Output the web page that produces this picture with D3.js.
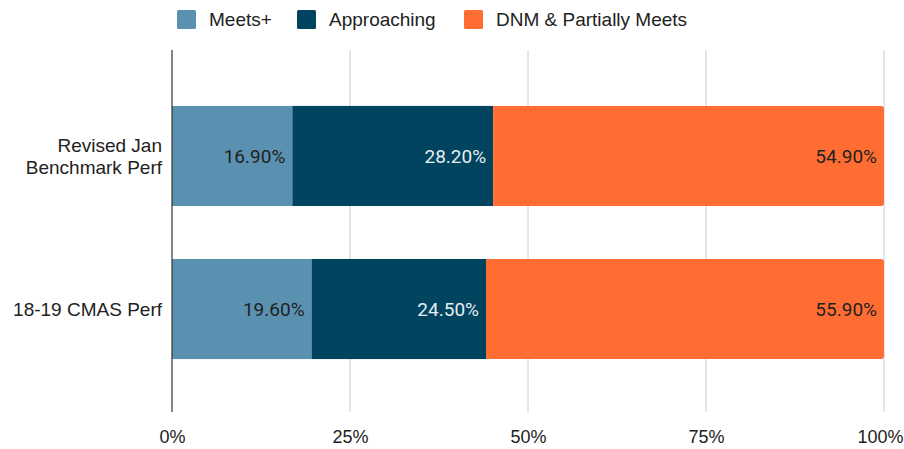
<!DOCTYPE html>
<html>
<head>
<meta charset="utf-8">
<script src="https://cdn.jsdelivr.net/npm/d3@7"></script>
<style>
  body { margin: 0; background: #fff; }
  svg { display: block; }
</style>
</head>
<body>
<svg id="chart" width="904" height="449"></svg>
<script>
// Performance categories and their share of students (percent)
const categories = ["Revised Jan\nBenchmark Perf", "18-19 CMAS Perf"];
const seriesNames = ["Meets+", "Approaching", "DNM & Partially Meets"];
const meetsPlus = [16.9, 19.6];
const approaching = [28.2, 24.5];
const dnmPartial = [54.9, 55.9];
const tickValues = [0, 25, 50, 75, 100];
const tickLabels = ["0%", "25%", "50%", "75%", "100%"];

const colors = ["#5b91b0", "#01445f", "#ff6d33"];
const labelColors = ["#1f1f1f", "#e6edf2", "#1f1f1f"];

const rows = categories.map((c, i) => ({
  category: c,
  "Meets+": meetsPlus[i],
  "Approaching": approaching[i],
  "DNM & Partially Meets": dnmPartial[i]
}));

const svg = d3.select("#chart");

const x = d3.scaleLinear().domain([0, 100]).range([172, 884]);
const y = d3.scaleBand().domain(categories).range([53, 412]).paddingInner(0.346).paddingOuter(0.346);

const font = "'Liberation Sans', Arial, sans-serif";
const labelFont = "Roboto, 'Liberation Sans', sans-serif";

// Vertical gridlines
svg.append("g")
  .selectAll("line")
  .data(tickValues.filter(v => v > 0))
  .join("line")
  .attr("x1", d => x(d)).attr("x2", d => x(d))
  .attr("y1", 50).attr("y2", 412)
  .attr("stroke", "#cccccc").attr("stroke-width", 1);

// Stacked bars
const stack = d3.stack().keys(seriesNames)(rows);
const layers = svg.append("g").selectAll("g")
  .data(stack)
  .join("g");

layers.each(function(layer, li) {
  const g = d3.select(this);
  layer.forEach(seg => {
    const x0 = x(seg[0]), x1 = x(seg[1]);
    const yy = y(seg.data.category), h = y.bandwidth();
    if (li === seriesNames.length - 1) {
      // last segment: rounded right end
      const r = 3;
      g.append("path")
        .attr("d", `M${x0},${yy}H${x1 - r}Q${x1},${yy} ${x1},${yy + r}V${yy + h - r}Q${x1},${yy + h} ${x1 - r},${yy + h}H${x0}Z`)
        .attr("fill", colors[li]);
    } else {
      g.append("rect")
        .attr("x", x0).attr("y", yy)
        .attr("width", x1 - x0).attr("height", h)
        .attr("fill", colors[li]);
    }
    g.append("text")
      .attr("x", x1 - 7)
      .attr("y", yy + h / 2)
      .attr("dy", "0.36em")
      .attr("text-anchor", "end")
      .attr("font-family", labelFont)
      .attr("font-size", 19)
      .attr("fill", labelColors[li])
      .text((seg[1] - seg[0]).toFixed(2) + "%");
  });
});

// Zero baseline
svg.append("line")
  .attr("x1", x(0)).attr("x2", x(0))
  .attr("y1", 50).attr("y2", 412)
  .attr("stroke", "#333").attr("stroke-width", 1.2);

// X axis labels
const xAxis = d3.axisBottom(x).tickValues(tickValues)
  .tickFormat((d, i) => tickLabels[i]).tickSize(0).tickPadding(0);
const xg = svg.append("g").attr("transform", "translate(0,430)").call(xAxis);
xg.select(".domain").remove();
xg.selectAll("text")
  .attr("font-family", font).attr("font-size", 18).attr("fill", "#222");
// keep the last label inside the right edge
xg.selectAll("text").filter(d => d === 100)
  .attr("text-anchor", "end").attr("x", 903 - x(100));

// Category labels
const yg = svg.append("g");
categories.forEach(c => {
  const lines = c.split("\n");
  const cy = y(c) + y.bandwidth() / 2;
  const t = yg.append("text")
    .attr("x", 162)
    .attr("text-anchor", "end")
    .attr("font-family", font)
    .attr("font-size", 19)
    .attr("fill", "#222");
  lines.forEach((ln, i) => {
    t.append("tspan")
      .attr("x", 162)
      .attr("y", cy + (i - (lines.length - 1) / 2) * 22)
      .attr("dy", "0.36em")
      .text(ln);
  });
});

// Legend
const legendX = [177, 297, 464];
const legend = svg.append("g");
seriesNames.forEach((s, i) => {
  legend.append("rect")
    .attr("x", legendX[i]).attr("y", 10)
    .attr("width", 19).attr("height", 19).attr("rx", 1.5)
    .attr("fill", colors[i]);
  legend.append("text")
    .attr("x", legendX[i] + 32).attr("y", 19)
    .attr("dy", "0.36em")
    .attr("font-family", font).attr("font-size", 19)
    .attr("fill", "#222")
    .text(s);
});
</script>
</body>
</html>
